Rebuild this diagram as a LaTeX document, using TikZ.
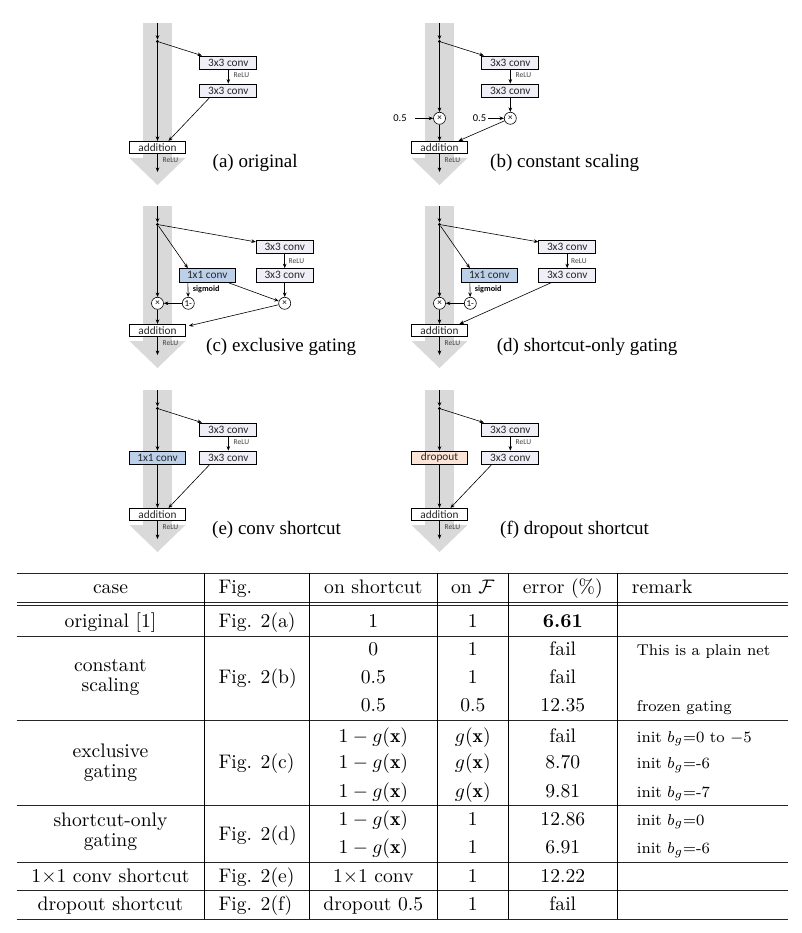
\documentclass[tikz,border=0pt]{standalone}
\usepackage{fontspec}
\usepackage{graphicx}
\usetikzlibrary{arrows.meta,calc}
\newfontfamily\cbfont{Carlito}
\newfontfamily\capfont{Liberation Serif}
\definecolor{bandgray}{RGB}{217,217,217}
\definecolor{convfill}{RGB}{240,238,246}
\definecolor{gatefill}{RGB}{189,208,233}
\definecolor{dropfill}{RGB}{252,228,214}
\newcommand\tb[1]{\scalebox{1.96}{#1}}
\newcommand\rmk[1]{\scalebox{1.96}{\footnotesize #1}}
\tikzset{
 band/.style={fill=bandgray, draw=none},
 arr/.style={-{Stealth[length=4.5pt,width=3.6pt]}, line width=0.6pt},
 boxbase/.style={draw, line width=0.7pt, inner sep=0pt, minimum height=13.5pt, font=\cbfont\fontsize{11.3}{12}\selectfont, text=black!85},
 conv/.style={boxbase, fill=convfill, minimum width=57pt},
 addbox/.style={boxbase, fill=white, minimum width=56pt, minimum height=12.5pt},
 gate/.style={boxbase, fill=gatefill, minimum width=56pt},
 drop/.style={boxbase, fill=dropfill, minimum width=56pt},
 relu/.style={anchor=west, inner sep=0pt, font=\cbfont\fontsize{7.5}{8}\selectfont, text=black!75},
 sig/.style={anchor=west, inner sep=0pt, font=\cbfont\bfseries\fontsize{8.2}{9}\selectfont},
 opc/.style={circle, draw, line width=0.6pt, fill=white, minimum size=12pt, inner sep=0pt, font=\cbfont\fontsize{9}{9}\selectfont},
 dotn/.style={circle, fill=black, minimum size=3.2pt, inner sep=0pt},
 captext/.style={anchor=base west, inner sep=0pt, font=\capfont\fontsize{19}{21}\selectfont},
 half/.style={inner sep=0pt, font=\cbfont\fontsize{10.5}{11}\selectfont},
 tc/.style={anchor=base, inner sep=0pt},
 tl/.style={anchor=base west, inner sep=0pt},
 rule/.style={line width=0.9pt, draw=black!85},
 vrule/.style={line width=0.8pt},
}
\newcommand\panelbase[1]{%
 \fill[band] (143,23) rectangle (171.5,158);
 \fill[band] (129.5,158) -- (185.5,158) -- (157.5,185) -- cycle;
 \coordinate (#1top) at (157.5,23);
 \node[dotn] (#1dot) at (157.5,41.5) {};
 \node[addbox] (#1add) at (157.5,147.5) {addition};
 \node[relu] (#1r2) at (162.5,160) {ReLU};
 \coordinate (#1out) at (157.5,172);
 \draw[arr] (#1top) -- (#1dot);
 \draw[arr] (#1add) -- (#1out);
}
\begin{document}
\begin{tikzpicture}[x=1pt,y=-1pt]
\useasboundingbox[fill=white] (0,0) rectangle (802,933);
% ---------- (a)
\begin{scope}
 \panelbase{a-}
 \node[conv] (a-c1) at (228.3,62.7) {3x3 conv};
 \node[conv] (a-c2) at (228.3,90.7) {3x3 conv};
 \node[relu] (a-r1) at (233.5,75.5) {ReLU};
 \draw[arr] (a-dot) -- ($(a-c1.north west)+(2.5,0)$);
 \draw[arr] (a-c1) -- (a-c2);
 \draw[arr] (a-dot) -- (a-add);
 \draw[arr] ($(a-c2.south west)+(10,0)$) -- ($(a-add.north)+(11,0)$);
 \node[captext] (a-cap) at (212.5,167.5) {(a) original};
\end{scope}
% ---------- (b)
\begin{scope}[shift={(282,0)}]
 \panelbase{b-}
 \node[conv] (b-c1) at (228.3,62.7) {3x3 conv};
 \node[conv] (b-c2) at (228.3,90.7) {3x3 conv};
 \node[relu] (b-r1) at (233.5,75.5) {ReLU};
 \node[opc] (b-m1) at (157.5,118.3) {×};
 \node[opc] (b-m2) at (228.3,118.3) {×};
 \node[half] (b-h1) at (118,118.3) {0.5};
 \node[half] (b-h2) at (197.5,118.3) {0.5};
 \draw[arr] (b-dot) -- ($(b-c1.north west)+(2.5,0)$);
 \draw[arr] (b-c1) -- (b-c2);
 \draw[arr, shorten <=8pt] (b-h1) -- (b-m1);
 \draw[arr, shorten <=2pt] (b-h2) -- (b-m2);
 \draw[arr] (b-dot) -- (b-m1);
 \draw[arr] (b-m1) -- (b-add);
 \draw[arr] (b-c2) -- (b-m2);
 \draw[arr] (b-m2) -- ($(b-add.north)+(19,0)$);
 \node[captext] (b-cap) at (208,167.5) {(b) constant scaling};
\end{scope}
% ---------- (c)
\begin{scope}[shift={(0,183)}]
 \panelbase{c-}
 \node[conv] (c-c1) at (284.7,64) {3x3 conv};
 \node[conv] (c-c2) at (284.7,92.3) {3x3 conv};
 \node[relu] (c-r1) at (288.5,77.7) {ReLU};
 \node[gate] (c-g) at (207.2,92.3) {1x1 conv};
 \node[sig] (c-s) at (192.7,106.3) {sigmoid};
 \node[opc] (c-one) at (188.3,120.3) {1-};
 \node[opc] (c-ml) at (157.5,120.3) {×};
 \node[opc] (c-mr) at (284.7,120.3) {×};
 \draw[arr] (c-dot) -- ($(c-c1.north west)+(0,2)$);
 \draw[arr] (c-dot) -- ($(c-g.north west)+(9,0)$);
 \draw[arr] (c-c1) -- (c-c2);
 \draw[arr] (c-c2) -- (c-mr);
 \draw[arr] ($(c-g.south west)+(9,0)$) -- (c-one);
 \draw[arr] ($(c-g.south east)+(-8,0)$) -- (c-mr);
 \draw[arr] (c-one) -- (c-ml);
 \draw[arr] (c-dot) -- (c-ml);
 \draw[arr] (c-ml) -- (c-add);
 \draw[arr] (c-mr) -- ($(c-add.north east)+(3,2)$);
 \node[captext] (c-cap) at (206,168) {(c) exclusive gating};
\end{scope}
% ---------- (d)
\begin{scope}[shift={(282,183)}]
 \panelbase{d-}
 \node[conv] (d-c1) at (285.2,64) {3x3 conv};
 \node[conv] (d-c2) at (285.2,92.3) {3x3 conv};
 \node[relu] (d-r1) at (289,77.7) {ReLU};
 \node[gate] (d-g) at (207.2,92.3) {1x1 conv};
 \node[sig] (d-s) at (192.7,106.3) {sigmoid};
 \node[opc] (d-one) at (188.3,120.3) {1-};
 \node[opc] (d-ml) at (157.5,120.3) {×};
 \draw[arr] (d-dot) -- ($(d-c1.north west)+(0,2)$);
 \draw[arr] (d-dot) -- ($(d-g.north west)+(9,0)$);
 \draw[arr] (d-c1) -- (d-c2);
 \draw[arr] ($(d-g.south west)+(9,0)$) -- (d-one);
 \draw[arr] (d-one) -- (d-ml);
 \draw[arr] (d-dot) -- (d-ml);
 \draw[arr] (d-ml) -- (d-add);
 \draw[arr] ($(d-c2.south west)+(13.5,0)$) -- ($(d-add.north)+(20,0)$);
 \node[captext] (d-cap) at (214.7,168) {(d) shortcut-only gating};
\end{scope}
% ---------- (e)
\begin{scope}[shift={(0,367)}]
 \panelbase{e-}
 \node[conv] (e-c1) at (228.3,62.7) {3x3 conv};
 \node[conv] (e-c2) at (228.3,90.7) {3x3 conv};
 \node[relu] (e-r1) at (233.5,75.5) {ReLU};
 \node[gate] (e-g) at (157.5,90.8) {1x1 conv};
 \draw[arr] (e-dot) -- ($(e-c1.north west)+(2.5,0)$);
 \draw[arr] (e-c1) -- (e-c2);
 \draw[arr] (e-dot) -- (e-g);
 \draw[arr] (e-g) -- (e-add);
 \draw[arr] ($(e-c2.south west)+(10,0)$) -- ($(e-add.north)+(11,0)$);
 \node[captext] (e-cap) at (212,167.5) {(e) conv shortcut};
\end{scope}
% ---------- (f)
\begin{scope}[shift={(282,367)}]
 \panelbase{f-}
 \node[conv] (f-c1) at (228.3,62.7) {3x3 conv};
 \node[conv] (f-c2) at (228.3,90.7) {3x3 conv};
 \node[relu] (f-r1) at (233.5,75.5) {ReLU};
 \node[drop] (f-g) at (157.5,90.8) {dropout};
 \draw[arr] (f-dot) -- ($(f-c1.north west)+(2.5,0)$);
 \draw[arr] (f-c1) -- (f-c2);
 \draw[arr] (f-dot) -- (f-g);
 \draw[arr] (f-g) -- (f-add);
 \draw[arr] ($(f-c2.south west)+(10,0)$) -- ($(f-add.north)+(11,0)$);
 \node[captext] (f-cap) at (218,167.5) {(f) dropout shortcut};
\end{scope}
% ---------- table rules
\draw[rule] (16.7,573.3) -- (788.3,573.3);
\draw[rule] (16.7,602.3) -- (788.3,602.3);
\draw[rule] (16.7,605.7) -- (788.3,605.7);
\draw[rule] (16.7,636) -- (788.3,636);
\draw[rule] (16.7,720.7) -- (788.3,720.7);
\draw[rule] (16.7,805) -- (788.3,805);
\draw[rule] (16.7,862.7) -- (788.3,862.7);
\draw[rule] (16.7,890.7) -- (788.3,890.7);
\draw[rule] (16.7,919.3) -- (788.3,919.3);
\foreach \vx in {204.3,309.3,437.3,508.3,617.3}
  \draw[vrule] (\vx,573.3) -- (\vx,919.3);
% header
\node[tc] (t-h1) at (110.5,593.5) {\tb{case}};
\node[tl] (t-h2) at (218.3,593.5) {\tb{Fig.}};
\node[tc] (t-h3) at (373.3,593.5) {\tb{on shortcut}};
\node[tc] (t-h4) at (472.8,593.5) {\tb{on $\mathcal{F}$}};
\node[tc] (t-h5) at (562.8,593.5) {\tb{error (\%)}};
\node[tl] (t-h6) at (631.7,593.5) {\tb{remark}};
% original
\node[tc] (t-a1) at (110.5,627) {\tb{original [1]}};
\node[tl] (t-a2) at (218.3,627) {\tb{Fig. 2(a)}};
\node[tc] (t-a3) at (373.3,627) {\tb{1}};
\node[tc] (t-a4) at (472.8,627) {\tb{1}};
\node[tc] (t-a5) at (562.8,627) {\tb{\textbf{6.61}}};
% constant scaling
\node[tc] (t-b1) at (110.5,671) {\tb{constant}};
\node[tc] (t-b1b) at (110.5,691) {\tb{scaling}};
\node[tl] (t-b2) at (218.3,683.5) {\tb{Fig. 2(b)}};
\node[tc] (t-b3) at (373.3,655) {\tb{0}};
\node[tc] (t-b4) at (472.8,655) {\tb{1}};
\node[tc] (t-b5) at (562.8,655) {\tb{fail}};
\node[tl] (t-b6) at (636.7,655) {\rmk{This is a plain net}};
\node[tc] (t-c3) at (373.3,683.5) {\tb{0.5}};
\node[tc] (t-c4) at (472.8,683.5) {\tb{1}};
\node[tc] (t-c5) at (562.8,683.5) {\tb{fail}};
\node[tc] (t-d3) at (373.3,711) {\tb{0.5}};
\node[tc] (t-d4) at (472.8,711) {\tb{0.5}};
\node[tc] (t-d5) at (562.8,711) {\tb{12.35}};
\node[tl] (t-d6) at (636.7,711) {\rmk{frozen gating}};
% exclusive gating
\node[tc] (t-e1) at (110.5,757) {\tb{exclusive}};
\node[tc] (t-e1b) at (110.5,777) {\tb{gating}};
\node[tl] (t-e2) at (218.3,768.5) {\tb{Fig. 2(c)}};
\node[tc] (t-e3) at (373.3,742) {\tb{$1-g(\mathbf{x})$}};
\node[tc] (t-e4) at (472.8,742) {\tb{$g(\mathbf{x})$}};
\node[tc] (t-e5) at (562.8,742) {\tb{fail}};
\node[tl] (t-e6) at (636.7,742) {\rmk{init $b_g$=0 to $-5$}};
\node[tc] (t-f3) at (373.3,768.5) {\tb{$1-g(\mathbf{x})$}};
\node[tc] (t-f4) at (472.8,768.5) {\tb{$g(\mathbf{x})$}};
\node[tc] (t-f5) at (562.8,768.5) {\tb{8.70}};
\node[tl] (t-f6) at (636.7,768.5) {\rmk{init $b_g$=-6}};
\node[tc] (t-g3) at (373.3,797) {\tb{$1-g(\mathbf{x})$}};
\node[tc] (t-g4) at (472.8,797) {\tb{$g(\mathbf{x})$}};
\node[tc] (t-g5) at (562.8,797) {\tb{9.81}};
\node[tl] (t-g6) at (636.7,797) {\rmk{init $b_g$=-7}};
% shortcut-only gating
\node[tc] (t-i1) at (110.5,826) {\tb{shortcut-only}};
\node[tc] (t-i1b) at (110.5,846) {\tb{gating}};
\node[tl] (t-i2) at (218.3,840) {\tb{Fig. 2(d)}};
\node[tc] (t-i3) at (373.3,825) {\tb{$1-g(\mathbf{x})$}};
\node[tc] (t-i4) at (472.8,825) {\tb{1}};
\node[tc] (t-i5) at (562.8,825) {\tb{12.86}};
\node[tl] (t-i6) at (636.7,825) {\rmk{init $b_g$=0}};
\node[tc] (t-j3) at (373.3,853.5) {\tb{$1-g(\mathbf{x})$}};
\node[tc] (t-j4) at (472.8,853.5) {\tb{1}};
\node[tc] (t-j5) at (562.8,853.5) {\tb{6.91}};
\node[tl] (t-j6) at (636.7,853.5) {\rmk{init $b_g$=-6}};
% 1x1 conv shortcut
\node[tc] (t-k1) at (110.5,882) {\tb{1$\times$1 conv shortcut}};
\node[tl] (t-k2) at (218.3,882) {\tb{Fig. 2(e)}};
\node[tc] (t-k3) at (373.3,882) {\tb{1$\times$1 conv}};
\node[tc] (t-k4) at (472.8,882) {\tb{1}};
\node[tc] (t-k5) at (562.8,882) {\tb{12.22}};
% dropout shortcut
\node[tc] (t-l1) at (110.5,910) {\tb{dropout shortcut}};
\node[tl] (t-l2) at (218.3,910) {\tb{Fig. 2(f)}};
\node[tc] (t-l3) at (373.3,910) {\tb{dropout 0.5}};
\node[tc] (t-l4) at (472.8,910) {\tb{1}};
\node[tc] (t-l5) at (562.8,910) {\tb{fail}};
\end{tikzpicture}
\end{document}
